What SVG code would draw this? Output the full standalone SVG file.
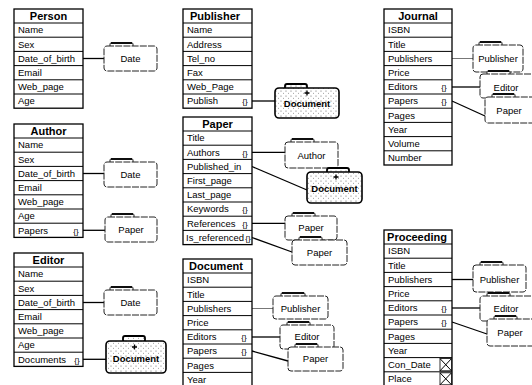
<svg xmlns="http://www.w3.org/2000/svg" width="532" height="385" viewBox="0 0 532 385">
<defs>
<pattern id="dots" width="5" height="5" patternUnits="userSpaceOnUse">
<rect width="5" height="5" fill="#fff"/>
<circle cx="1" cy="1" r="0.6" fill="#666"/>
<circle cx="3.5" cy="3.2" r="0.5" fill="#888"/>
</pattern>
<style>
.tb{fill:#fff;stroke:#000;stroke-width:1.3}
.sp{stroke:#000;stroke-width:1}
.t{font-family:"Liberation Sans",Arial,sans-serif;font-size:9.5px;fill:#000}
.h{font-family:"Liberation Sans",Arial,sans-serif;font-size:11px;font-weight:bold;fill:#000;text-anchor:middle}
.c{font-family:"Liberation Sans",Arial,sans-serif;font-size:8px;fill:#000;text-anchor:middle}
.l{font-family:"Liberation Sans",Arial,sans-serif;font-size:9.5px;fill:#000;text-anchor:middle}
.dl{font-family:"Liberation Sans",Arial,sans-serif;font-size:9.5px;font-weight:bold;fill:#000;text-anchor:middle}
.fb{fill:#fff;stroke:#222;stroke-width:1;stroke-dasharray:7 1.2}
.tab{fill:#fff;stroke:#222;stroke-width:1}
.tabt{stroke:#000;stroke-width:1.8}
.db{fill:url(#dots);stroke:#000;stroke-width:1.6}
.dh{fill:url(#dots);stroke:#000;stroke-width:1.8}
.pl{stroke:#000;stroke-width:1.3}
.cn{stroke:#000;stroke-width:1.3;fill:none}
.cg{stroke:#777;stroke-width:1;fill:none}
.xb{fill:#fff;stroke:#000;stroke-width:0.8}
</style>
</defs>

<g id="connectors">
<line class="cn" x1="83" y1="58.5" x2="104" y2="58.5"/>
<line class="cn" x1="83" y1="173.5" x2="104" y2="173.5"/>
<line class="cn" x1="83" y1="230.3" x2="105" y2="230.3"/>
<line class="cn" x1="83" y1="302.5" x2="104" y2="302.5"/>
<line class="cn" x1="83" y1="359.3" x2="106" y2="359.3"/>
<line class="cn" x1="252" y1="101" x2="275" y2="101"/>
<line class="cn" x1="252" y1="152.3" x2="285" y2="152.3"/>
<line class="cn" x1="252" y1="166.5" x2="307" y2="190"/>
<line class="cn" x1="252" y1="223.3" x2="285" y2="223.3"/>
<line class="cn" x1="252" y1="237.5" x2="292" y2="252"/>
<line class="cg" x1="252" y1="308.5" x2="273" y2="308.5"/>
<line class="cn" x1="252" y1="337" x2="280" y2="337"/>
<line class="cn" x1="252" y1="351" x2="288" y2="361"/>
<line class="cg" x1="452" y1="58.5" x2="473" y2="58.5"/>
<line class="cn" x1="452" y1="87" x2="480" y2="87"/>
<line class="cn" x1="452" y1="101" x2="485" y2="116"/>
<line class="cn" x1="452" y1="279.5" x2="473" y2="279.5"/>
<line class="cn" x1="452" y1="308" x2="480" y2="308"/>
<line class="cn" x1="452" y1="322" x2="487" y2="334"/>
</g>

<g id="person">
<rect class="tb" x="14" y="9" width="69" height="99.2"/>
<path class="sp" d="M14 23H83M14 37.2H83M14 51.4H83M14 65.6H83M14 79.8H83M14 94H83"/>
<text class="h" x="48.5" y="20">Person</text>
<text class="t" x="18" y="33.3">Name</text>
<text class="t" x="18" y="47.5">Sex</text>
<text class="t" x="18" y="61.7">Date_of_birth</text>
<text class="t" x="18" y="75.9">Email</text>
<text class="t" x="18" y="90.1">Web_page</text>
<text class="t" x="18" y="104.3">Age</text>
</g>
<g id="person-date">
<rect class="tab" x="110" y="43" width="23" height="5" rx="1"/><line class="tabt" x1="111" y1="43" x2="132" y2="43"/>
<rect class="fb" x="104" y="46" width="53" height="25" rx="3"/>
<text class="l" x="130.5" y="62">Date</text>
</g>

<g id="author">
<rect class="tb" x="14" y="124" width="69" height="113.4"/>
<path class="sp" d="M14 138H83M14 152.2H83M14 166.4H83M14 180.6H83M14 194.8H83M14 209H83M14 223.2H83"/>
<text class="h" x="48.5" y="135">Author</text>
<text class="t" x="18" y="148.3">Name</text>
<text class="t" x="18" y="162.5">Sex</text>
<text class="t" x="18" y="176.7">Date_of_birth</text>
<text class="t" x="18" y="190.9">Email</text>
<text class="t" x="18" y="205.1">Web_page</text>
<text class="t" x="18" y="219.3">Age</text>
<text class="t" x="18" y="233.5">Papers</text><text class="c" x="76" y="233.5">{}</text>
</g>
<g id="author-date">
<rect class="tab" x="110" y="159" width="23" height="5" rx="1"/><line class="tabt" x1="111" y1="159" x2="132" y2="159"/>
<rect class="fb" x="104" y="162" width="53" height="25" rx="3"/>
<text class="l" x="130.5" y="178">Date</text>
</g>
<g id="author-paper">
<rect class="tab" x="111" y="214" width="23" height="5" rx="1"/><line class="tabt" x1="112" y1="214" x2="133" y2="214"/>
<rect class="fb" x="105" y="217" width="52" height="25" rx="3"/>
<text class="l" x="131" y="233">Paper</text>
</g>

<g id="editor">
<rect class="tb" x="14" y="253" width="69" height="113.4"/>
<path class="sp" d="M14 267H83M14 281.2H83M14 295.4H83M14 309.6H83M14 323.8H83M14 338H83M14 352.2H83"/>
<text class="h" x="48.5" y="264">Editor</text>
<text class="t" x="18" y="277.3">Name</text>
<text class="t" x="18" y="291.5">Sex</text>
<text class="t" x="18" y="305.7">Date_of_birth</text>
<text class="t" x="18" y="319.9">Email</text>
<text class="t" x="18" y="334.1">Web_page</text>
<text class="t" x="18" y="348.3">Age</text>
<text class="t" x="18" y="362.5">Documents</text><text class="c" x="77" y="362.5">{}</text>
</g>
<g id="editor-date">
<rect class="tab" x="110" y="287" width="23" height="5" rx="1"/><line class="tabt" x1="111" y1="287" x2="132" y2="287"/>
<rect class="fb" x="104" y="290" width="53" height="25" rx="3"/>
<text class="l" x="130.5" y="306">Date</text>
</g>
<g id="editor-document">
<rect class="dh" x="123" y="336" width="22" height="6" rx="2"/>
<rect class="db" x="106" y="341" width="60" height="32" rx="4"/>
<path class="pl" d="M134.5 344.5v5M132 347h5"/>
<text class="dl" x="136" y="362">Document</text>
</g>

<g id="publisher">
<rect class="tb" x="183" y="9" width="69" height="99.2"/>
<path class="sp" d="M183 23H252M183 37.2H252M183 51.4H252M183 65.6H252M183 79.8H252M183 94H252"/>
<text class="h" x="215" y="20">Publisher</text>
<text class="t" x="187" y="33.3">Name</text>
<text class="t" x="187" y="47.5">Address</text>
<text class="t" x="187" y="61.7">Tel_no</text>
<text class="t" x="187" y="75.9">Fax</text>
<text class="t" x="187" y="90.1">Web_Page</text>
<text class="t" x="187" y="104.3">Publish</text><text class="c" x="245" y="104.3">{}</text>
</g>
<g id="publisher-document">
<rect class="dh" x="285" y="84" width="22" height="6" rx="2"/>
<rect class="db" x="275" y="88" width="64" height="30" rx="4"/>
<path class="pl" d="M307 90.5v5M304.5 93h5"/>
<text class="dl" x="307" y="107">Document</text>
</g>

<g id="paper">
<rect class="tb" x="183" y="117" width="69" height="127.6"/>
<path class="sp" d="M183 131H252M183 145.2H252M183 159.4H252M183 173.6H252M183 187.8H252M183 202H252M183 216.2H252M183 230.4H252"/>
<text class="h" x="217.5" y="128">Paper</text>
<text class="t" x="187" y="141.3">Title</text>
<text class="t" x="187" y="155.5">Authors</text><text class="c" x="245" y="155.5">{}</text>
<text class="t" x="187" y="169.7">Published_in</text>
<text class="t" x="187" y="183.9">First_page</text>
<text class="t" x="187" y="198.1">Last_page</text>
<text class="t" x="187" y="212.3">Keywords</text><text class="c" x="245" y="212.3">{}</text>
<text class="t" x="187" y="226.5">References</text><text class="c" x="245" y="226.5">{}</text>
<text class="t" x="186" y="240.7">Is_referenced</text><text class="c" x="248" y="240.7">{}</text>
</g>
<g id="paper-author">
<rect class="tab" x="291" y="139" width="23" height="5" rx="1"/><line class="tabt" x1="292" y1="139" x2="313" y2="139"/>
<rect class="fb" x="285" y="142" width="53" height="26" rx="3"/>
<text class="l" x="311.5" y="158.5">Author</text>
</g>
<g id="paper-document">
<rect class="dh" x="327" y="168" width="22" height="6" rx="2"/>
<rect class="db" x="307" y="172" width="55" height="31" rx="4"/>
<path class="pl" d="M336 174.5v5M333.5 177h5"/>
<text class="dl" x="334.5" y="192">Document</text>
</g>
<g id="paper-paper1">
<rect class="tab" x="292" y="213" width="23" height="5" rx="1"/><line class="tabt" x1="293" y1="213" x2="314" y2="213"/>
<rect class="fb" x="285" y="216" width="52" height="24" rx="3"/>
<text class="l" x="311" y="231">Paper</text>
</g>
<g id="paper-paper2">
<rect class="tab" x="299" y="237" width="23" height="5" rx="1"/><line class="tabt" x1="300" y1="237" x2="321" y2="237"/>
<rect class="fb" x="292" y="240" width="55" height="25" rx="3"/>
<text class="l" x="319.5" y="256">Paper</text>
</g>

<g id="document">
<rect class="tb" x="183" y="259" width="69" height="130"/>
<path class="sp" d="M183 273H252M183 287.2H252M183 301.4H252M183 315.6H252M183 329.8H252M183 344H252M183 358.2H252M183 372.4H252"/>
<text class="h" x="216" y="270">Document</text>
<text class="t" x="187" y="283.3">ISBN</text>
<text class="t" x="187" y="297.5">Title</text>
<text class="t" x="187" y="311.7">Publishers</text>
<text class="t" x="187" y="325.9">Price</text>
<text class="t" x="187" y="340.1">Editors</text><text class="c" x="244" y="340.1">{}</text>
<text class="t" x="187" y="354.3">Papers</text><text class="c" x="244" y="354.3">{}</text>
<text class="t" x="187" y="368.5">Pages</text>
<text class="t" x="187" y="382.7">Year</text>
</g>
<g id="document-publisher">
<rect class="tab" x="281" y="293" width="24" height="5" rx="1"/><line class="tabt" x1="282" y1="293" x2="304" y2="293"/>
<rect class="fb" x="273" y="296" width="55" height="23" rx="3"/>
<text class="l" x="300.5" y="311.5">Publisher</text>
</g>
<g id="document-editor">
<rect class="tab" x="287" y="322" width="23" height="5" rx="1"/><line class="tabt" x1="288" y1="322" x2="309" y2="322"/>
<rect class="fb" x="280" y="325" width="54" height="24" rx="3"/>
<text class="l" x="307" y="340">Editor</text>
</g>
<g id="document-paper">
<rect class="tab" x="295" y="344" width="23" height="5" rx="1"/><line class="tabt" x1="296" y1="344" x2="317" y2="344"/>
<rect class="fb" x="288" y="347" width="55" height="24" rx="3"/>
<text class="l" x="315.5" y="362">Paper</text>
</g>

<g id="journal">
<rect class="tb" x="384" y="9" width="68" height="156"/>
<path class="sp" d="M384 23H452M384 37.2H452M384 51.4H452M384 65.6H452M384 79.8H452M384 94H452M384 108.2H452M384 122.4H452M384 136.6H452M384 150.8H452"/>
<text class="h" x="418" y="20">Journal</text>
<text class="t" x="388" y="33.3">ISBN</text>
<text class="t" x="388" y="47.5">Title</text>
<text class="t" x="388" y="61.7">Publishers</text>
<text class="t" x="388" y="75.9">Price</text>
<text class="t" x="388" y="90.1">Editors</text><text class="c" x="444" y="90.1">{}</text>
<text class="t" x="388" y="104.3">Papers</text><text class="c" x="444" y="104.3">{}</text>
<text class="t" x="388" y="118.5">Pages</text>
<text class="t" x="388" y="132.7">Year</text>
<text class="t" x="388" y="146.9">Volume</text>
<text class="t" x="388" y="161.1">Number</text>
</g>
<g id="journal-publisher">
<rect class="tab" x="479" y="42" width="23" height="5" rx="1"/><line class="tabt" x1="480" y1="42" x2="501" y2="42"/>
<rect class="fb" x="473" y="45" width="50" height="27" rx="3"/>
<text class="l" x="498" y="61.5">Publisher</text>
</g>
<g id="journal-editor">
<rect class="tab" x="487" y="71" width="23" height="5" rx="1"/><line class="tabt" x1="488" y1="71" x2="509" y2="71"/>
<rect class="fb" x="480" y="74" width="56" height="24" rx="3"/>
<text class="l" x="506" y="90.5">Editor</text>
</g>
<g id="journal-paper">
<rect class="tab" x="492" y="94" width="23" height="5" rx="1"/><line class="tabt" x1="493" y1="94" x2="514" y2="94"/>
<rect class="fb" x="485" y="97" width="52" height="26" rx="3"/>
<text class="l" x="509" y="113.5">Paper</text>
</g>

<g id="proceeding">
<rect class="tb" x="384" y="230" width="68" height="160"/>
<path class="sp" d="M384 244H452M384 258.2H452M384 272.4H452M384 286.6H452M384 300.8H452M384 315H452M384 329.2H452M384 343.4H452M384 357.6H452M384 371.8H452"/>
<text class="h" x="417" y="241">Proceeding</text>
<text class="t" x="388" y="254.3">ISBN</text>
<text class="t" x="388" y="268.5">Title</text>
<text class="t" x="388" y="282.7">Publishers</text>
<text class="t" x="388" y="296.9">Price</text>
<text class="t" x="388" y="311.1">Editors</text><text class="c" x="444" y="311.1">{}</text>
<text class="t" x="388" y="325.3">Papers</text><text class="c" x="444" y="325.3">{}</text>
<text class="t" x="388" y="339.5">Pages</text>
<text class="t" x="388" y="353.7">Year</text>
<text class="t" x="388" y="367.9">Con_Date</text>
<rect class="xb" x="440" y="358.6" width="11.5" height="12.2"/><path class="sp" d="M440 358.6L451.5 370.8M451.5 358.6L440 370.8"/>
<text class="t" x="388" y="382.1">Place</text>
<rect class="xb" x="440" y="372.8" width="11.5" height="12"/><path class="sp" d="M440 372.8L451.5 384.8M451.5 372.8L440 384.8"/>
</g>
<g id="proceeding-publisher">
<rect class="tab" x="480" y="262" width="23" height="5" rx="1"/><line class="tabt" x1="481" y1="262" x2="502" y2="262"/>
<rect class="fb" x="473" y="265" width="53" height="27" rx="3"/>
<text class="l" x="499.5" y="282.5">Publisher</text>
</g>
<g id="proceeding-editor">
<rect class="tab" x="487" y="293" width="23" height="5" rx="1"/><line class="tabt" x1="488" y1="293" x2="509" y2="293"/>
<rect class="fb" x="480" y="296" width="56" height="25" rx="3"/>
<text class="l" x="506" y="311.5">Editor</text>
</g>
<g id="proceeding-paper">
<rect class="tab" x="494" y="316" width="23" height="5" rx="1"/><line class="tabt" x1="495" y1="316" x2="516" y2="316"/>
<rect class="fb" x="487" y="319" width="50" height="27" rx="3"/>
<text class="l" x="510" y="336">Paper</text>
</g>
</svg>
